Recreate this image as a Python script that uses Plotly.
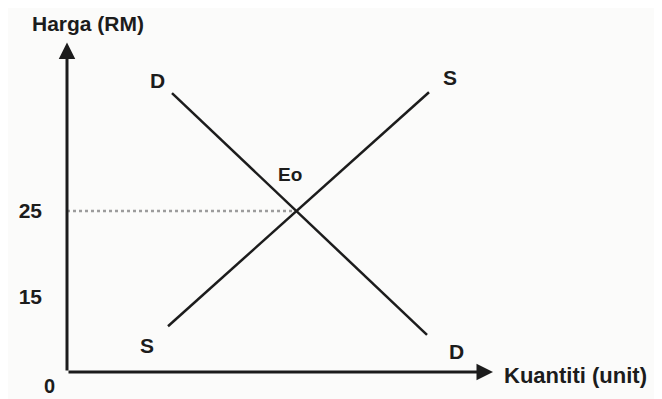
import plotly.graph_objects as go

# values (price axis is not drawn to scale below 15)
demand_q = [10.5, 36.0]
demand_p = [38.7, 10.6]
supply_q = [10.1, 36.2]
supply_p = [11.6, 38.8]
eq_q, eq_p = 22.8, 25
price_ticks = [15, 25]

X_RANGE = [0, 42.3]
Y_RANGE = [6.28, 44.3]
INK = '#1c1c1c'
FONT = dict(family='Liberation Sans, Arial', size=21, color=INK, weight='bold')
PAGE_PAD = 8  # browser body margin around the plot div

fig = go.Figure()

# dotted guide from the price axis to the equilibrium point
fig.add_trace(go.Scatter(
    x=[X_RANGE[0], eq_q], y=[eq_p, eq_p], mode='lines',
    line=dict(color='#9c9c9c', width=2.5, dash='dot'), hoverinfo='skip'
))
fig.add_trace(go.Scatter(
    x=demand_q, y=demand_p, mode='lines', line=dict(color=INK, width=2.5), name='D'
))
fig.add_trace(go.Scatter(
    x=supply_q, y=supply_p, mode='lines', line=dict(color=INK, width=2.5), name='S'
))


def label(text, x, y, dx, dy, size=21):
    fig.add_annotation(x=x, y=y, text=text, showarrow=False,
                       xshift=dx, yshift=dy, font={**FONT, 'size': size})


label('D', demand_q[0], demand_p[0], -15, 13)
label('D', demand_q[1], demand_p[1], 29, -17)
label('S', supply_q[1], supply_p[1], 21, 15)
label('S', supply_q[0], supply_p[0], -21, -19)
label('Eo', eq_q, eq_p, -5, 36, 19)
label('0', X_RANGE[0], Y_RANGE[0], -18, -14, 20)

# axes drawn as arrows
fig.add_annotation(x=X_RANGE[1] + 0.3, y=Y_RANGE[0], ax=X_RANGE[0], ay=Y_RANGE[0],
                   xref='x', yref='y', axref='x', ayref='y', text='',
                   showarrow=True, arrowhead=2, arrowsize=1.1, arrowwidth=3, arrowcolor=INK)
fig.add_annotation(x=X_RANGE[0], y=Y_RANGE[1] + 0.3, ax=X_RANGE[0], ay=Y_RANGE[0],
                   xref='x', yref='y', axref='x', ayref='y', text='',
                   showarrow=True, arrowhead=2, arrowsize=1.1, arrowwidth=3, arrowcolor=INK)

fig.add_annotation(x=X_RANGE[1], y=Y_RANGE[0], text='Kuantiti (unit)', showarrow=False,
                   xanchor='left', xshift=12, yshift=-3, font={**FONT, 'size': 22})
fig.add_annotation(x=X_RANGE[0], y=Y_RANGE[1], text='Harga (RM)', showarrow=False,
                   xshift=21, yshift=22, font=FONT)

fig.update_xaxes(range=X_RANGE, showgrid=False, zeroline=False, showticklabels=False)
fig.update_yaxes(range=Y_RANGE, showgrid=False, zeroline=False,
                 tickvals=price_ticks, ticks='', ticklabelstandoff=24, tickfont=FONT)
fig.update_layout(
    width=662 - PAGE_PAD, height=399 - PAGE_PAD, showlegend=False,
    margin=dict(l=67 - PAGE_PAD, r=172, t=45 - PAGE_PAD, b=27),
    plot_bgcolor='#fbfbfa', paper_bgcolor='#fbfbfa'
)
fig.write_html("out.html")
